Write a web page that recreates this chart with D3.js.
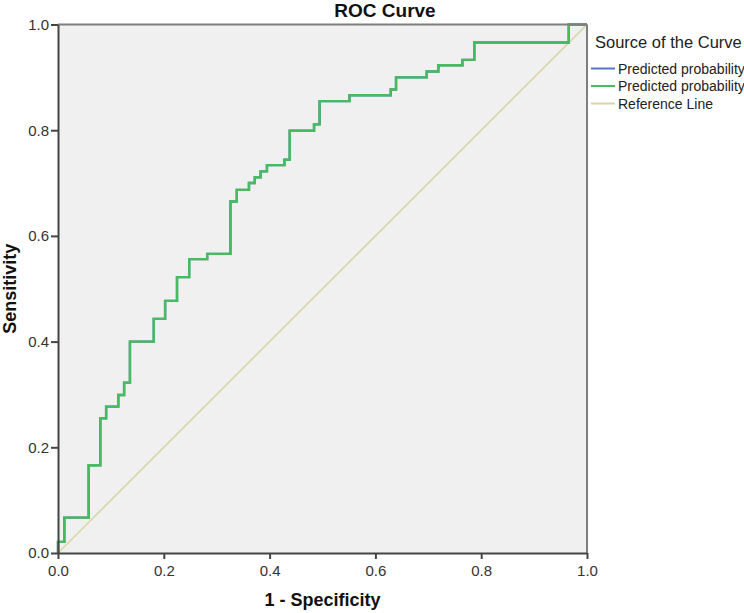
<!DOCTYPE html>
<html>
<head>
<meta charset="utf-8">
<script src="https://cdn.jsdelivr.net/npm/d3@7"></script>
<style>
  body { margin: 0; background: #fff; }
  text { font-family: "Liberation Sans", Arial, sans-serif; }
</style>
</head>
<body>
<div id="chart"></div>
<script>
// ROC points (1 - specificity, sensitivity), drawn as a staircase
const fpr = [0, 0, 0.012, 0.058, 0.080, 0.091, 0.114, 0.125, 0.136, 0.181, 0.2025, 0.225,
    0.248, 0.282, 0.326, 0.338, 0.361, 0.372, 0.383, 0.395, 0.428, 0.438, 0.484, 0.4945,
    0.551, 0.629, 0.639, 0.697, 0.719, 0.7645, 0.787, 0.9655, 1.0];
const tpr = [0, 0.021, 0.067, 0.166, 0.255, 0.277, 0.299, 0.322, 0.400, 0.443, 0.477, 0.522,
    0.556, 0.566, 0.665, 0.687, 0.700, 0.711, 0.722, 0.734, 0.744, 0.799, 0.811, 0.855,
    0.866, 0.877, 0.900, 0.911, 0.923, 0.933, 0.966, 1.0, 1.0];
const refLine = [0, 1];
const ticks = [0, 0.2, 0.4, 0.6, 0.8, 1.0];
const legendItems = ["Predicted probability", "Predicted probability", "Reference Line"];
const legendColors = ["#5b74c4", "#45bd5c", "#d9d5a6"];

const width = 744, height = 613;
const margin = { top: 24.5, right: 157, bottom: 60, left: 58 };

const svg = d3.select("#chart").append("svg")
    .attr("width", width)
    .attr("height", height);

const x = d3.scaleLinear().domain([0, 1]).range([margin.left, width - margin.right]);
const y = d3.scaleLinear().domain([0, 1]).range([height - margin.bottom, margin.top]);

// plot background
svg.append("rect")
    .attr("x", x(0)).attr("y", y(1))
    .attr("width", x(1) - x(0)).attr("height", y(0) - y(1))
    .attr("fill", "#f0f0f0");

// reference diagonal
svg.append("line")
    .attr("x1", x(refLine[0])).attr("y1", y(refLine[0]))
    .attr("x2", x(refLine[1])).attr("y2", y(refLine[1]))
    .attr("stroke", legendColors[2])
    .attr("stroke-width", 1.6);

const pts = fpr.map((d, i) => [d, tpr[i]]);
const line = d3.line()
    .x(d => x(d[0]))
    .y(d => y(d[1]))
    .curve(d3.curveStepAfter);

// blue curve sits under the green one (same points)
svg.append("path").datum(pts)
    .attr("d", line).attr("fill", "none")
    .attr("stroke", legendColors[0]).attr("stroke-width", 2.4);
svg.append("path").datum(pts)
    .attr("d", line).attr("fill", "none")
    .attr("stroke", legendColors[1]).attr("stroke-width", 2.4);

// frame: top/right grey, left/bottom dark
svg.append("line")
    .attr("x1", x(0)).attr("x2", x(1)).attr("y1", y(1)).attr("y2", y(1))
    .attr("stroke", "#7f7f7f").attr("stroke-width", 2);
svg.append("line")
    .attr("x1", x(1)).attr("x2", x(1)).attr("y1", y(0)).attr("y2", y(1))
    .attr("stroke", "#7f7f7f").attr("stroke-width", 2);

const xAxis = svg.append("g")
    .attr("transform", "translate(0," + y(0) + ")")
    .call(d3.axisBottom(x).tickValues(ticks).tickFormat(d3.format(".1f"))
        .tickSize(6).tickSizeOuter(0).tickPadding(6));
const yAxis = svg.append("g")
    .attr("transform", "translate(" + x(0) + ",0)")
    .call(d3.axisLeft(y).tickValues(ticks).tickFormat(d3.format(".1f"))
        .tickSize(7).tickSizeOuter(0).tickPadding(2));

[xAxis, yAxis].forEach(g => {
    g.select(".domain").attr("stroke", "#444").attr("stroke-width", 2);
    g.selectAll(".tick line").attr("stroke", "#444").attr("stroke-width", 2);
    g.selectAll(".tick text")
        .attr("fill", "#333")
        .style("font-size", "15px")
        .style("font-family", "'Liberation Sans', Arial, sans-serif");
});

// titles
svg.append("text")
    .attr("x", 385).attr("y", 17)
    .attr("text-anchor", "middle")
    .style("font-size", "19px").style("font-weight", "bold")
    .attr("fill", "#111")
    .text("ROC Curve");

svg.append("text")
    .attr("x", (x(0) + x(1)) / 2).attr("y", 606)
    .attr("text-anchor", "middle")
    .style("font-size", "18px").style("font-weight", "bold")
    .attr("fill", "#111")
    .text("1 - Specificity");

svg.append("text")
    .attr("transform", "translate(16," + (y(0) + y(1)) / 2 + ") rotate(-90)")
    .attr("text-anchor", "middle")
    .style("font-size", "18px").style("font-weight", "bold")
    .attr("fill", "#111")
    .text("Sensitivity");

// legend
const legend = svg.append("g").attr("transform", "translate(591,0)");
legend.append("text")
    .attr("x", 4).attr("y", 48)
    .style("font-size", "16.5px")
    .attr("fill", "#222")
    .text("Source of the Curve");

const item = legend.selectAll("g.item")
    .data(legendItems)
    .enter().append("g").classed("item", true)
    .attr("transform", (d, i) => "translate(0," + (68.5 + i * 17.5) + ")");
item.append("line")
    .attr("x1", 0).attr("x2", 24)
    .attr("stroke", (d, i) => legendColors[i])
    .attr("stroke-width", 2);
item.append("text")
    .attr("x", 27).attr("y", 5)
    .style("font-size", "14px")
    .attr("fill", "#222")
    .text(d => d);
</script>
</body>
</html>
